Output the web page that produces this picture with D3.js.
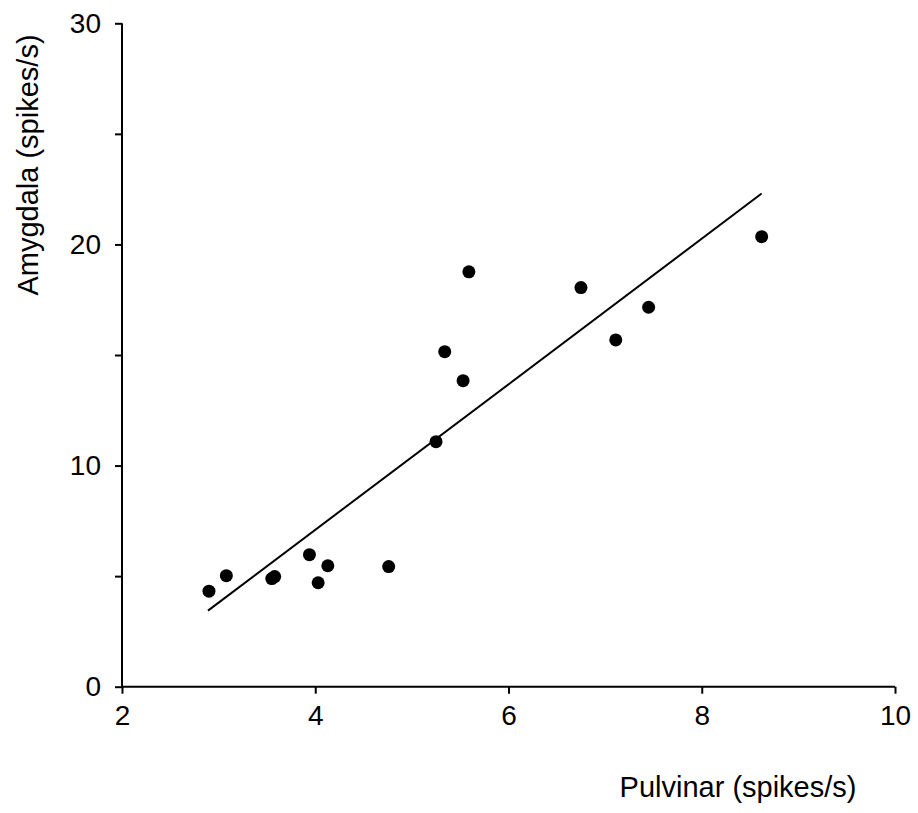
<!DOCTYPE html>
<html>
<head>
<meta charset="utf-8">
<script src="https://cdn.jsdelivr.net/npm/d3@7"></script>
<style>
  html, body { margin: 0; padding: 0; background: #fff; }
  svg { display: block; }
  text { font-family: "Liberation Sans", Arial, sans-serif; fill: #000; }
</style>
</head>
<body>
<svg id="chart" width="918" height="813"></svg>
<script>
// Data
const pulvinar = [2.90, 3.08, 3.55, 3.58, 3.94, 4.03, 4.13, 4.76, 5.25, 5.34, 5.53, 5.59, 6.75, 7.11, 7.45, 8.62];
const amygdala = [4.32, 5.02, 4.89, 4.98, 5.97, 4.70, 5.47, 5.43, 11.08, 15.15, 13.84, 18.76, 18.05, 15.68, 17.16, 20.35];
const fitX = [2.89, 8.62];
const fitY = [3.44, 22.30];
const xTicks = [2, 4, 6, 8, 10];
const yTicks = [0, 5, 10, 15, 20, 25, 30];
const yTickLabels = ["0", "", "10", "", "20", "", "30"];
const xTitle = "Pulvinar (spikes/s)";
const yTitle = "Amygdala (spikes/s)";

const svg = d3.select("#chart");
const x = d3.scaleLinear().domain([2, 10]).range([122, 895]);
const y = d3.scaleLinear().domain([0, 30]).range([686.7, 23.3]);

const xAxis = d3.axisBottom(x).tickValues(xTicks).tickSize(7).tickPadding(11).tickFormat(d3.format("d"));
const yAxis = d3.axisLeft(y).tickValues(yTicks).tickSize(7).tickPadding(14)
  .tickFormat((d, i) => yTickLabels[i]);

const gx = svg.append("g").attr("transform", `translate(0,${y(0)})`).call(xAxis);
const gy = svg.append("g").attr("transform", `translate(${x(2)},0)`).call(yAxis);
[gx, gy].forEach(g => {
  g.select(".domain").attr("stroke", "#000").attr("stroke-width", 2);
  g.selectAll(".tick line").attr("stroke", "#000").attr("stroke-width", 2);
  g.selectAll(".tick text").style("font-size", "28px").style("font-family", "'Liberation Sans', Arial, sans-serif").attr("fill", "#000");
});
gx.select(".domain").attr("d", `M${x(2)},0H${x(10)}`);
gy.select(".domain").attr("d", `M0,${y(30)}V${y(0)}`);

// regression line
svg.append("line")
  .attr("x1", x(fitX[0])).attr("y1", y(fitY[0]))
  .attr("x2", x(fitX[1])).attr("y2", y(fitY[1]))
  .attr("stroke", "#000").attr("stroke-width", 2);

// points
svg.append("g").selectAll("circle")
  .data(pulvinar.map((v, i) => [v, amygdala[i]]))
  .join("circle")
  .attr("cx", d => x(d[0])).attr("cy", d => y(d[1]))
  .attr("r", 6.5).attr("fill", "#000");

// titles
svg.append("text").attr("x", 738).attr("y", 797)
  .attr("text-anchor", "middle").style("font-size", "29px").text(xTitle);
svg.append("text").attr("transform", "translate(38,165) rotate(-90)")
  .attr("text-anchor", "middle").style("font-size", "29px").text(yTitle);
</script>
</body>
</html>
